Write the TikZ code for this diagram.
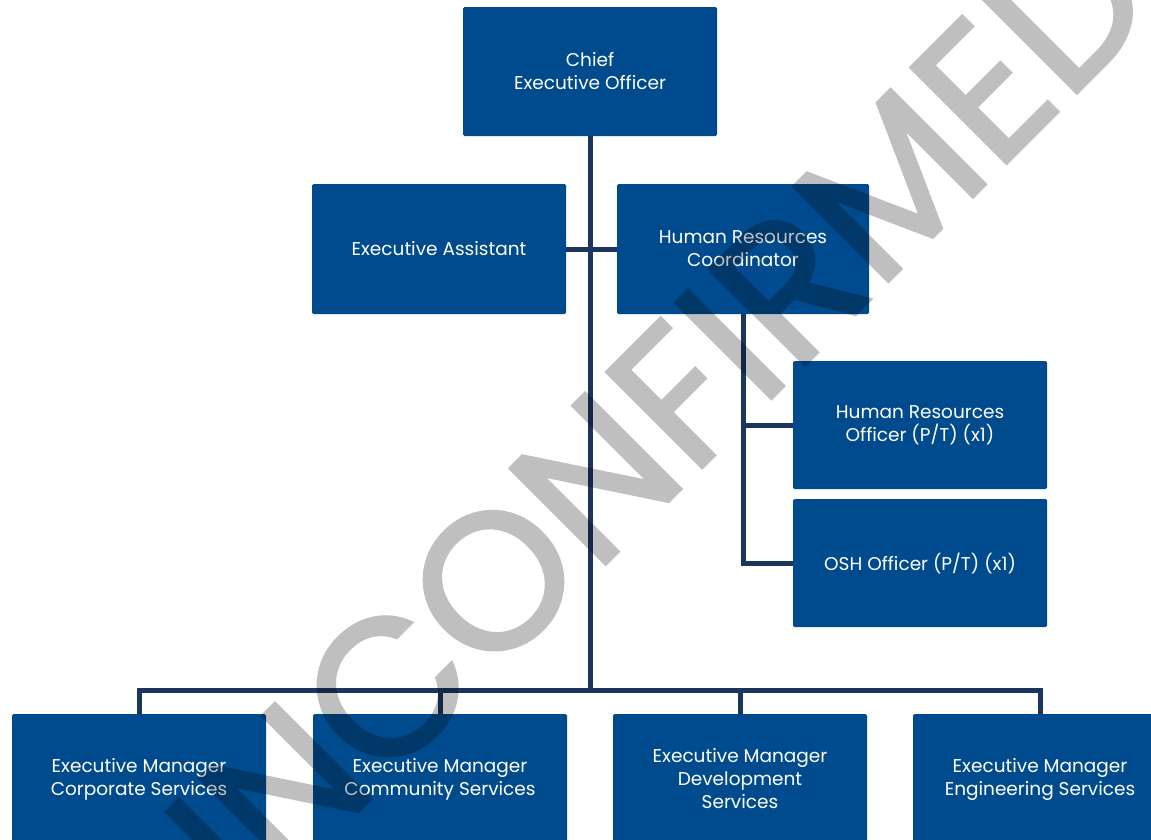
\documentclass[tikz,border=0pt]{standalone}
\usepackage{fontspec}
\setmainfont{Poppins}
\newfontfamily\wmfont[FakeBold=1.6]{Poppins}
\definecolor{boxblue}{RGB}{0,75,141}
\definecolor{linenavy}{RGB}{28,53,94}
\tikzset{
  orgbox/.style={fill=boxblue, draw=none, rounded corners=1.5pt, minimum width=254pt, minimum height=129pt,
    text=white, align=center, inner sep=0pt, font=\fontsize{18.5}{23}\selectfont},
  link/.style={draw=linenavy, line width=5pt},
}
\begin{document}
\begin{tikzpicture}[x=1pt,y=-1pt]
\useasboundingbox (0,0) rectangle (1151,839);
\clip (0,0) rectangle (1151,839);
\fill[white] (0,0) rectangle (1151,839);
% nodes
\node[orgbox] (ceo) at (590,71.5) {Chief\\Executive Officer};
\node[orgbox, minimum height=130pt] (ea) at (439,249) {Executive Assistant};
\node[orgbox, minimum width=252pt, minimum height=130pt] (hrc) at (743,249) {Human Resources\\Coordinator};
\node[orgbox, minimum height=128pt] (hro) at (920,425) {Human Resources\\Officer (P/T) (x1)};
\node[orgbox, minimum height=128pt] (osh) at (920,563) {OSH Officer (P/T) (x1)};
\node[orgbox, minimum height=130pt] (corp) at (139,779) {Executive Manager\\Corporate Services};
\node[orgbox, minimum height=130pt] (comm) at (440,779) {Executive Manager\\Community Services};
\node[orgbox, minimum height=130pt] (dev) at (740,779) {Executive Manager\\Development\\Services};
\node[orgbox, minimum height=130pt] (eng) at (1040,779) {Executive Manager\\Engineering Services};
% connectors
\coordinate (bus) at (590,690);
\path[link] (ceo.south) -- (bus);
\path[link] (ea.east) -- (hrc.west);
\path[link] (corp.north) |- (bus);
\path[link] (comm.north) |- (bus);
\path[link] (dev.north) |- (bus);
\path[link] (eng.north) |- (bus);
\path[link] (hrc.south) |- (hro.west);
\path[link] (hrc.south) |- (osh.west);
% watermark
\begin{scope}[transparency group, opacity=0.25]
\node[rotate=45, font=\wmfont\fontsize{194}{194}\selectfont, text=black, inner sep=0pt] (wm) at (630,444) {UNCONFIRMED};
\end{scope}
\end{tikzpicture}
\end{document}
